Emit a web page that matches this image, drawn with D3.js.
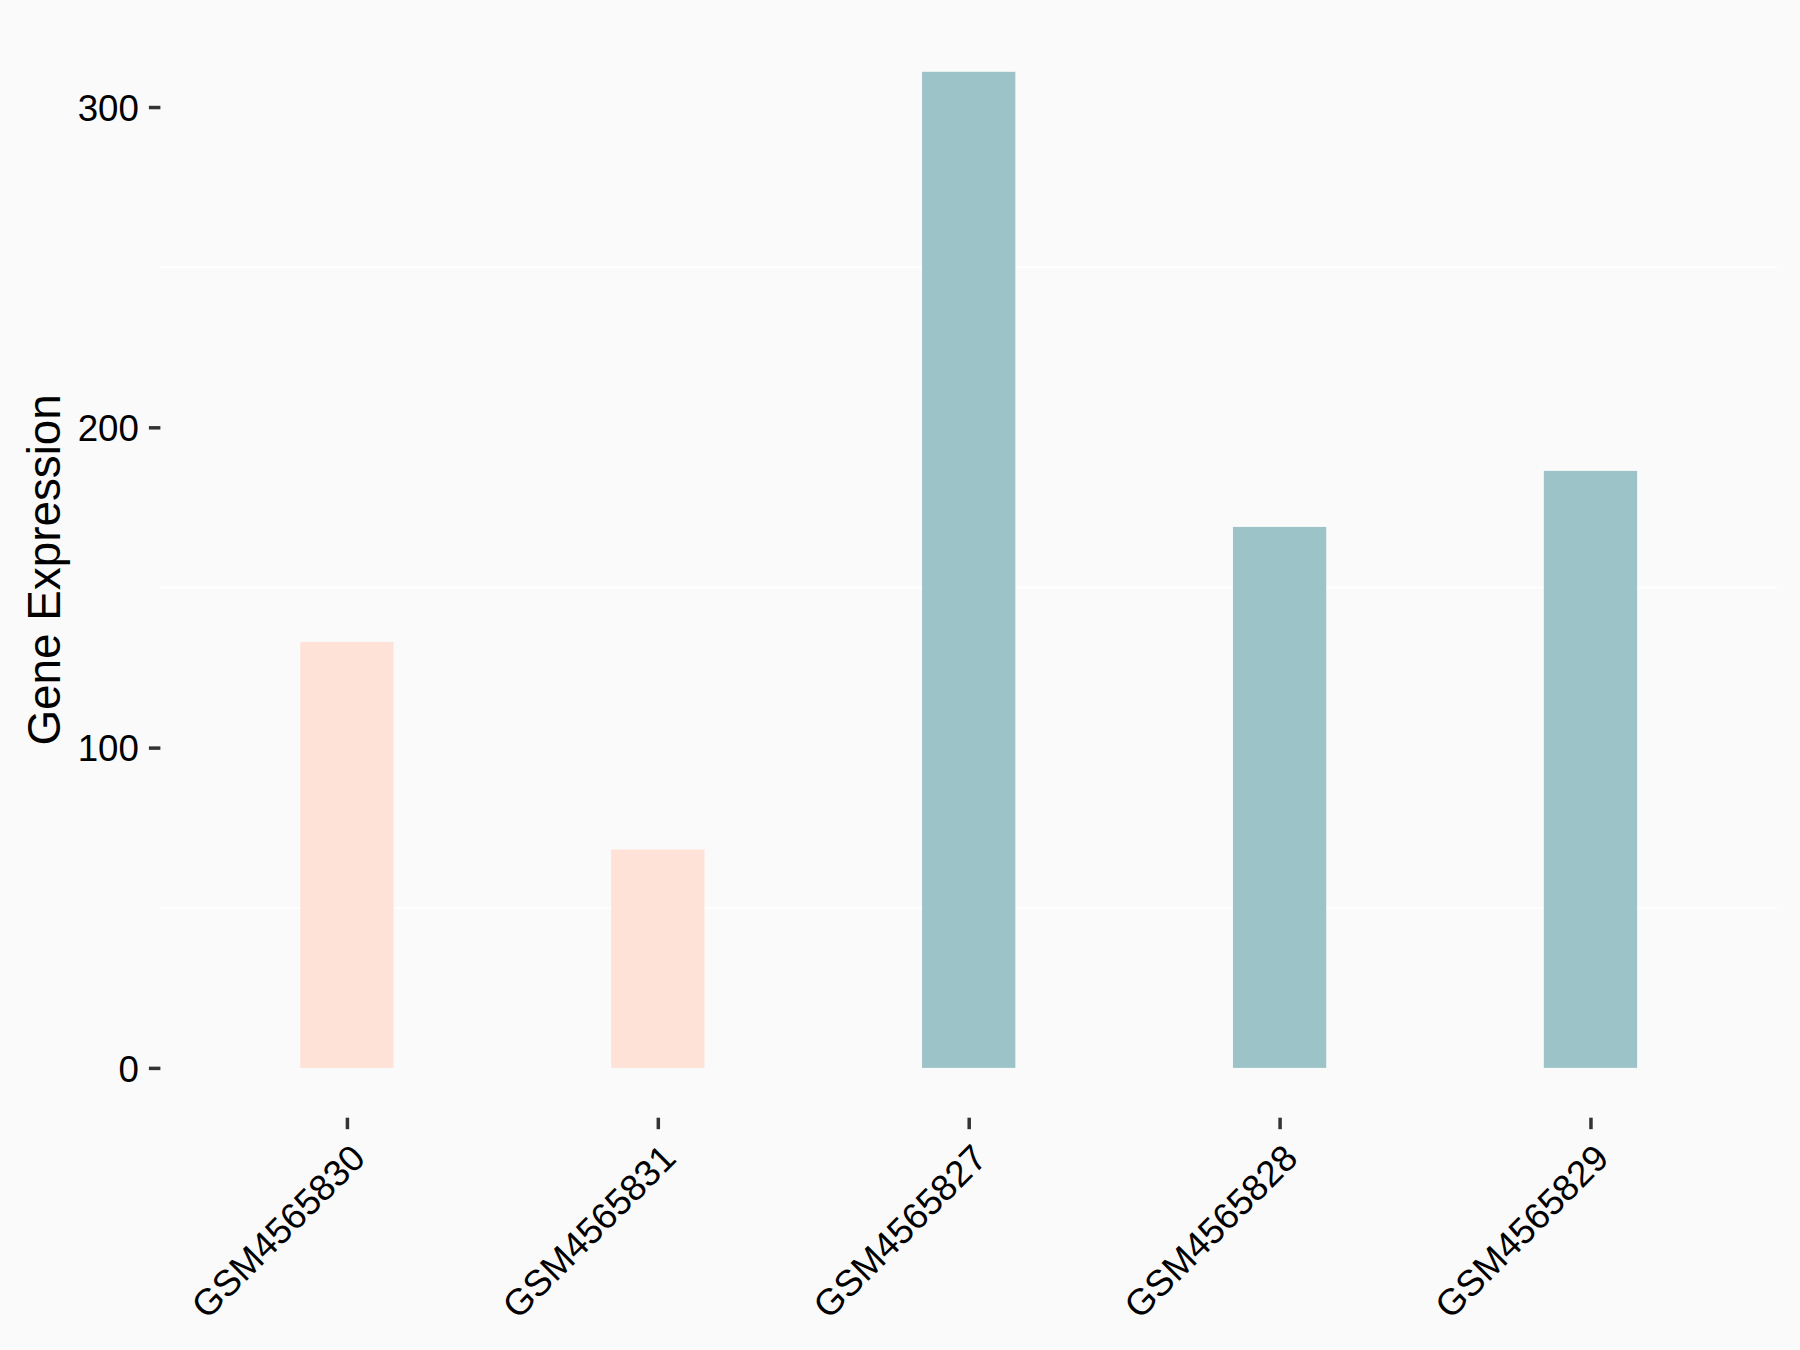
<!DOCTYPE html>
<html>
<head>
<meta charset="utf-8">
<script src="https://cdn.jsdelivr.net/npm/d3@7"></script>
<style>
  html, body { margin: 0; padding: 0; background: #FAFAFA; }
  text { font-family: "Liberation Sans", Arial, sans-serif; }
</style>
</head>
<body>
<script>
const categories = ["GSM4565830", "GSM4565831", "GSM4565827", "GSM4565828", "GSM4565829"];
const values = [133.0, 68.2, 311.0, 168.9, 186.4];
const groups = ["A", "A", "B", "B", "B"];
const yTicks = [0, 100, 200, 300];
const yMinor = [50, 150, 250];
const groupColors = { A: "#FEE1D7", B: "#9CC3C7" };

const W = 1800, H = 1350;
const panel = { left: 160.4, right: 1777, top: 22, bottom: 1117.7 };

const svg = d3.select("body").append("svg")
  .attr("width", W).attr("height", H)
  .style("display", "block");

svg.append("rect").attr("width", W).attr("height", H).attr("fill", "#FAFAFA");

const yMax = d3.max(values);
const pad = yMax * 0.05;
const y = d3.scaleLinear().domain([-pad, yMax + pad]).range([panel.bottom, panel.top]);

// discrete x scale with ggplot-like expansion (0.6 units each side)
const step = (panel.right - panel.left) / (categories.length - 1 + 1.2);
const x = d3.scalePoint().domain(categories)
  .range([panel.left + 0.6 * step, panel.right - 0.6 * step]);
const barW = 0.3 * step;

// minor gridlines
svg.append("g").selectAll("line").data(yMinor).join("line")
  .attr("x1", panel.left).attr("x2", panel.right)
  .attr("y1", d => y(d)).attr("y2", d => y(d))
  .attr("stroke", "#FFFFFF").attr("stroke-width", 2);

// bars
svg.append("g").selectAll("rect").data(categories).join("rect")
  .attr("x", d => x(d) - barW / 2)
  .attr("width", barW)
  .attr("y", (d, i) => y(values[i]))
  .attr("height", (d, i) => y(0) - y(values[i]))
  .attr("fill", (d, i) => groupColors[groups[i]]);

// y axis
const yAxis = svg.append("g")
  .attr("transform", `translate(${panel.left},0)`)
  .call(d3.axisLeft(y).tickValues(yTicks).tickSize(11.5).tickPadding(10).tickFormat(d3.format("d")));
yAxis.select(".domain").remove();
yAxis.selectAll(".tick line").attr("stroke", "#333333").attr("stroke-width", 3.5);
yAxis.selectAll(".tick text").attr("fill", "#000000")
  .style("font-size", "36.7px").attr("dy", "0.36em");

// x axis
const xAxis = svg.append("g")
  .attr("transform", `translate(0,${panel.bottom})`)
  .call(d3.axisBottom(x).tickSize(11.5).tickPadding(0));
xAxis.select(".domain").remove();
xAxis.selectAll(".tick line").attr("stroke", "#333333").attr("stroke-width", 3.5);
xAxis.selectAll(".tick text")
  .attr("fill", "#000000")
  .style("font-size", "36.7px")
  .attr("text-anchor", "end")
  .attr("x", 0).attr("y", 0).attr("dy", null)
  .attr("transform", "translate(1,24) rotate(-45)")
  .attr("dominant-baseline", "hanging");

// y axis title
svg.append("text")
  .attr("transform", `translate(60,${(panel.top + panel.bottom) / 2}) rotate(-90)`)
  .attr("text-anchor", "middle")
  .attr("fill", "#000")
  .style("font-size", "45.8px")
  .text("Gene Expression");
</script>
</body>
</html>
